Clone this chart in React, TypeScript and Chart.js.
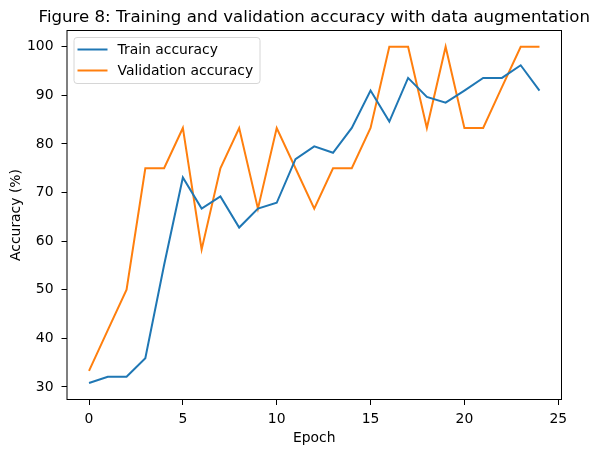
import React, { useEffect, useRef } from 'react';
import { Chart, registerables } from 'chart.js';

Chart.register(...registerables);

const epochs = [0, 1, 2, 3, 4, 5, 6, 7, 8, 9, 10, 11, 12, 13, 14, 15, 16, 17, 18, 19, 20, 21, 22, 23, 24];
const trainAcc = [30.8, 32.1, 32.1, 35.9, 55.1, 73.1, 66.7, 69.2, 62.8, 66.7, 67.9, 76.9, 79.5, 78.2, 83.3, 91.0, 84.6, 93.6, 89.7, 88.5, 91.0, 93.6, 93.6, 96.2, 91.0];
const valAcc = [33.3, 41.7, 50.0, 75.0, 75.0, 83.3, 58.3, 75.0, 83.3, 66.7, 83.3, 75.0, 66.7, 75.0, 75.0, 83.3, 100, 100, 83.3, 100, 83.3, 83.3, 91.7, 100, 100];
const xTicks = [0, 5, 10, 15, 20, 25];
const yTicks = [30, 40, 50, 60, 70, 80, 90, 100];

const FONT = "'DejaVu Sans', sans-serif";
const TITLE = 'Figure 8: Training and validation accuracy with data augmentation';

// frame, title and the in-plot legend, drawn the matplotlib way
const decorPlugin = {
    id: 'decor',
    afterDraw(chart: any) {
        const { ctx, chartArea: a } = chart;
        ctx.save();
        ctx.strokeStyle = '#000';
        ctx.lineWidth = 1;
        ctx.strokeRect(a.left + 0.5, a.top + 0.5, a.right - a.left - 1, a.bottom - a.top - 1);

        ctx.fillStyle = '#000';
        ctx.font = `16.6px ${FONT}`;
        ctx.textAlign = 'center';
        ctx.textBaseline = 'alphabetic';
        ctx.fillText(TITLE, (a.left + a.right) / 2, a.top - 8);

        // legend
        const bx = a.left + 7, by = a.top + 7, bw = 186, bh = 46;
        ctx.beginPath();
        ctx.roundRect(bx + 0.5, by + 0.5, bw, bh, 3);
        ctx.fillStyle = 'rgba(255,255,255,0.8)';
        ctx.fill();
        ctx.strokeStyle = '#d6d6d6';
        ctx.stroke();
        ctx.font = `13.9px ${FONT}`;
        ctx.textAlign = 'left';
        ctx.textBaseline = 'middle';
        chart.data.datasets.forEach((ds: any, i: number) => {
            const y = by + 12.5 + i * 21;
            ctx.strokeStyle = ds.borderColor;
            ctx.lineWidth = 2;
            ctx.beginPath();
            ctx.moveTo(bx + 4, y);
            ctx.lineTo(bx + 34, y);
            ctx.stroke();
            ctx.fillStyle = '#000';
            ctx.fillText(ds.label, bx + 44, y + 1);
        });
        ctx.restore();
    },
};

const AccuracyChart: React.FC = () => {
    const canvasRef = useRef<HTMLCanvasElement>(null);
    const chartRef = useRef<Chart | null>(null);

    useEffect(() => {
        if (!canvasRef.current) return;
        if (chartRef.current) chartRef.current.destroy();

        const tickFont = { family: FONT, size: 13.9 };

        chartRef.current = new Chart(canvasRef.current, {
            type: 'line',
            data: {
                datasets: [
                    {
                        label: 'Train accuracy',
                        data: epochs.map((e, i) => ({ x: e, y: trainAcc[i] })),
                        borderColor: '#1f77b4',
                        borderWidth: 2,
                        pointRadius: 0,
                        tension: 0,
                    },
                    {
                        label: 'Validation accuracy',
                        data: epochs.map((e, i) => ({ x: e, y: valAcc[i] })),
                        borderColor: '#ff7f0e',
                        borderWidth: 2,
                        pointRadius: 0,
                        tension: 0,
                    },
                ],
            },
            options: {
                responsive: false,
                animation: false,
                layout: { padding: { top: 30, right: 38, left: 0, bottom: 0 } },
                plugins: {
                    legend: { display: false },
                    tooltip: { enabled: false },
                    title: { display: false },
                },
                scales: {
                    x: {
                        type: 'linear',
                        min: -1.2,
                        max: 25.2,
                        afterBuildTicks: (s: any) => { s.ticks = xTicks.map(v => ({ value: v })); },
                        afterFit: (s: any) => { s.height = 53; },
                        grid: { display: true, drawOnChartArea: false, tickLength: 5, color: '#000' },
                        border: { display: false },
                        ticks: { color: '#000', font: tickFont, padding: 6, maxRotation: 0 },
                        title: { display: true, text: 'Epoch', color: '#000', font: tickFont, padding: { top: 0, bottom: 6 } },
                    },
                    y: {
                        type: 'linear',
                        min: 27.31,
                        max: 103.46,
                        afterBuildTicks: (s: any) => { s.ticks = yTicks.map(v => ({ value: v })); },
                        afterFit: (s: any) => { s.width = 66.5; },
                        grid: { display: true, drawOnChartArea: false, tickLength: 5, color: '#000' },
                        border: { display: false },
                        ticks: { color: '#000', font: tickFont, padding: 8 },
                        title: { display: true, text: 'Accuracy (%)', color: '#000', font: tickFont, padding: { top: 8, bottom: 0 } },
                    },
                },
            },
            plugins: [decorPlugin],
        });

        return () => {
            if (chartRef.current) {
                chartRef.current.destroy();
                chartRef.current = null;
            }
        };
    }, []);

    return <canvas ref={canvasRef} width={600} height={453} style={{ display: 'block' }}></canvas>;
};

export default function App() {
    return (
        <div style={{ position: 'fixed', left: 0, top: 0, width: 600, height: 453, background: '#fff' }}>
            <AccuracyChart />
        </div>
    );
}
